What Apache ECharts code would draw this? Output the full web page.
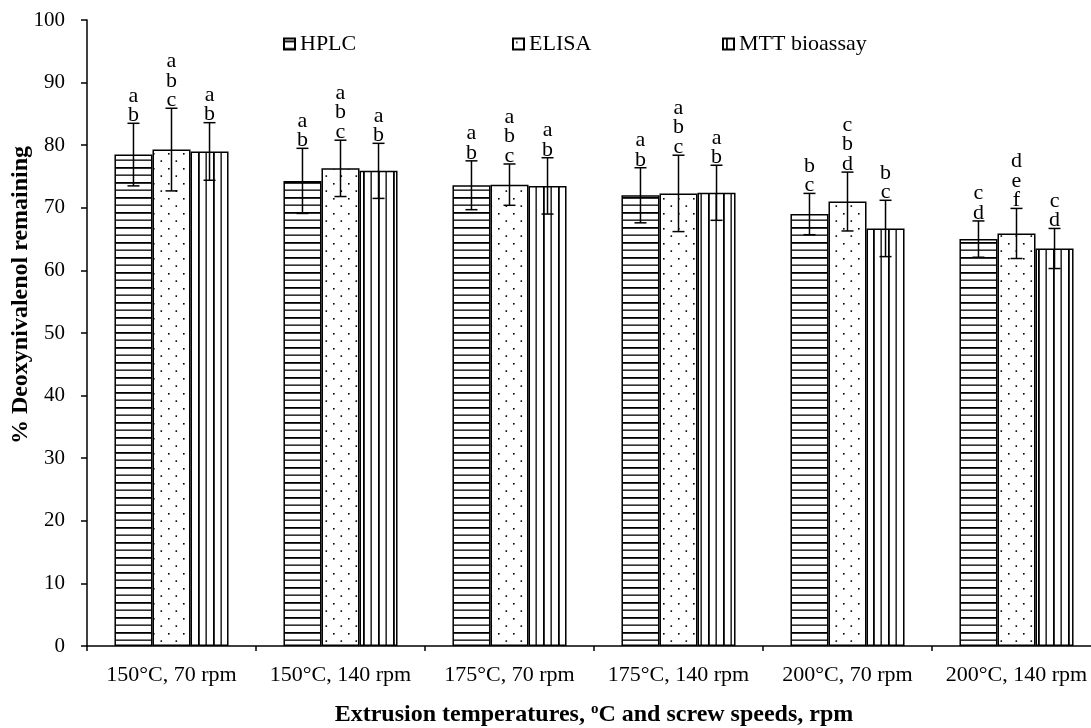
<!DOCTYPE html>
<html>
<head>
<meta charset="utf-8">
<script src="https://cdn.jsdelivr.net/npm/echarts@6/dist/echarts.min.js"></script>
<style>
  html, body { margin: 0; padding: 0; background: #fff; }
  #main { width: 1091px; height: 728px; }
</style>
</head>
<body>
<div id="main"></div>
<script>
var categories = ['150°C, 70 rpm', '150°C, 140 rpm', '175°C, 70 rpm', '175°C, 140 rpm', '200°C, 70 rpm', '200°C, 140 rpm']
var seriesNames = ['HPLC', 'ELISA', 'MTT bioassay']

// mean and standard deviation, % remaining
var hplcMean = [78.5, 74.3, 73.6, 72.0, 69.0, 65.0]
var hplcSd = [5.0, 5.2, 3.9, 4.4, 3.3, 2.9]
var elisaMean = [79.3, 76.3, 73.7, 72.3, 71.0, 65.9]
var elisaSd = [6.6, 4.5, 3.3, 6.1, 4.7, 4.0]
var mttMean = [79.0, 75.9, 73.5, 72.4, 66.7, 63.5]
var mttSd = [4.6, 4.4, 4.5, 4.4, 4.5, 3.2]

// significance letters, top to bottom
var hplcMarks = ['ab', 'ab', 'ab', 'ab', 'bc', 'cd']
var elisaMarks = ['abc', 'abc', 'abc', 'abc', 'cbd', 'def']
var mttMarks = ['ab', 'ab', 'ab', 'ab', 'bc', 'cd']

var yTicks = { min: 0, max: 100, interval: 10 }

var serif = '"Liberation Serif", "Times New Roman", serif'
var barFrac = 0.225

// hatch fills
function makePattern (kind) {
  var c = document.createElement('canvas')
  var ctx
  if (kind === 'h') {
    c.width = 8; c.height = 15
    ctx = c.getContext('2d')
    ctx.fillStyle = '#fff'; ctx.fillRect(0, 0, 8, 15)
    ctx.fillStyle = '#000'
    ctx.fillRect(0, 2, 8, 1.8)
    ctx.fillRect(0, 9.5, 8, 1.3)
  } else if (kind === 'd') {
    c.width = 15; c.height = 15
    ctx = c.getContext('2d')
    ctx.fillStyle = '#fff'; ctx.fillRect(0, 0, 15, 15)
    ctx.fillStyle = '#000'
    ctx.fillRect(3, 3, 1.6, 1.6)
    ctx.fillRect(10.5, 10.3, 1.6, 1.6)
  } else {
    c.width = 15; c.height = 8
    ctx = c.getContext('2d')
    ctx.fillStyle = '#fff'; ctx.fillRect(0, 0, 15, 8)
    ctx.fillStyle = '#000'
    ctx.fillRect(3, 0, 1.8, 8)
    ctx.fillRect(10.5, 0, 1.3, 8)
  }
  return { image: c, repeat: 'repeat' }
}

var means = [hplcMean, elisaMean, mttMean]
var sds = [hplcSd, elisaSd, mttSd]
var marks = [hplcMarks, elisaMarks, mttMarks]
var fills = [makePattern('h'), makePattern('d'), makePattern('v')]

var errData = []
for (var s = 0; s < 3; s++) {
  for (var i = 0; i < categories.length; i++) {
    errData.push([i, means[s][i], sds[s][i], s])
  }
}

function renderErr (params, api) {
  var cat = api.value(0)
  var mean = api.value(1)
  var sd = api.value(2)
  var s = api.value(3)
  var band = api.size([1, 0])[0]
  var off = (s - 1) * band * barFrac
  var top = api.coord([cat, mean + sd])
  var bot = api.coord([cat, mean - sd])
  var x = top[0] + off
  var st = { stroke: '#000', lineWidth: 1.5 }
  var children = [
    { type: 'line', shape: { x1: x, y1: top[1], x2: x, y2: bot[1] }, style: st },
    { type: 'line', shape: { x1: x - 6, y1: top[1], x2: x + 6, y2: top[1] }, style: st },
    { type: 'line', shape: { x1: x - 6, y1: bot[1], x2: x + 6, y2: bot[1] }, style: st }
  ]
  var txt = marks[s][cat]
  var n = txt.length
  for (var k = 0; k < n; k++) {
    children.push({
      type: 'text',
      style: {
        text: txt[k],
        x: x,
        y: top[1] + 3 - (n - 1 - k) * 19.5,
        align: 'center',
        verticalAlign: 'bottom',
        font: '22px ' + serif,
        fill: '#000'
      }
    })
  }
  return { type: 'group', children: children }
}

var myChart = echarts.init(document.getElementById('main'))

var legendBase = {
  top: 28,
  icon: 'rect',
  itemWidth: 11,
  itemHeight: 11,
  itemGap: 4,
  textStyle: { fontFamily: serif, fontSize: 22, color: '#000' },
  selectedMode: false
}

var option = {
  backgroundColor: '#fff',
  animation: false,
  legend: [
    Object.assign({}, legendBase, { data: ['HPLC'], left: 278 }),
    Object.assign({}, legendBase, { data: ['ELISA'], left: 507 }),
    Object.assign({}, legendBase, { data: ['MTT bioassay'], left: 717 })
  ],
  grid: {
    left: 87,
    top: 20,
    width: 1014,
    height: 626,
    containLabel: false,
    outerBoundsMode: 'none'
  },
  xAxis: {
    type: 'category',
    data: categories,
    name: 'Extrusion temperatures, {sup|o}C and screw speeds, rpm',
    nameLocation: 'middle',
    nameGap: 56,
    nameTextStyle: {
      fontFamily: serif,
      fontSize: 24,
      fontWeight: 'bold',
      color: '#000',
      rich: {
        sup: { fontFamily: serif, fontSize: 15, fontWeight: 'bold', color: '#000', verticalAlign: 'top', padding: [0, 0, 10, 0] }
      }
    },
    axisLine: { lineStyle: { color: '#000', width: 1.5 } },
    axisTick: { show: true, length: 5, lineStyle: { color: '#000', width: 1.5 } },
    axisLabel: { fontFamily: serif, fontSize: 22, color: '#000', margin: 18, interval: 0 },
    splitLine: { show: false }
  },
  yAxis: {
    type: 'value',
    min: yTicks.min,
    max: yTicks.max,
    interval: yTicks.interval,
    name: '% Deoxynivalenol remaining',
    nameLocation: 'middle',
    nameGap: 54,
    nameMoveOverlap: false,
    nameTextStyle: {
      fontFamily: serif,
      fontSize: 24,
      fontWeight: 'bold',
      color: '#000',
      padding: [0, 0, 0, 76]
    },
    axisLine: { show: true, lineStyle: { color: '#000', width: 1.5 } },
    axisTick: { show: true, length: 6, lineStyle: { color: '#000', width: 1.5 } },
    axisLabel: { fontFamily: serif, fontSize: 21, color: '#000', margin: 22 },
    splitLine: { show: false }
  },
  series: [
    {
      name: seriesNames[0],
      type: 'bar',
      data: hplcMean,
      barWidth: (barFrac * 100) + '%',
      barGap: '0%',
      itemStyle: { color: fills[0], borderColor: '#000', borderWidth: 1.5 }
    },
    {
      name: seriesNames[1],
      type: 'bar',
      data: elisaMean,
      barWidth: (barFrac * 100) + '%',
      barGap: '0%',
      itemStyle: { color: fills[1], borderColor: '#000', borderWidth: 1.5 }
    },
    {
      name: seriesNames[2],
      type: 'bar',
      data: mttMean,
      barWidth: (barFrac * 100) + '%',
      barGap: '0%',
      itemStyle: { color: fills[2], borderColor: '#000', borderWidth: 1.5 }
    },
    {
      type: 'custom',
      renderItem: renderErr,
      data: errData,
      encode: { x: 0, y: 1 },
      z: 5,
      clip: false,
      silent: true
    }
  ]
}

myChart.setOption(option)
</script>
</body>
</html>
